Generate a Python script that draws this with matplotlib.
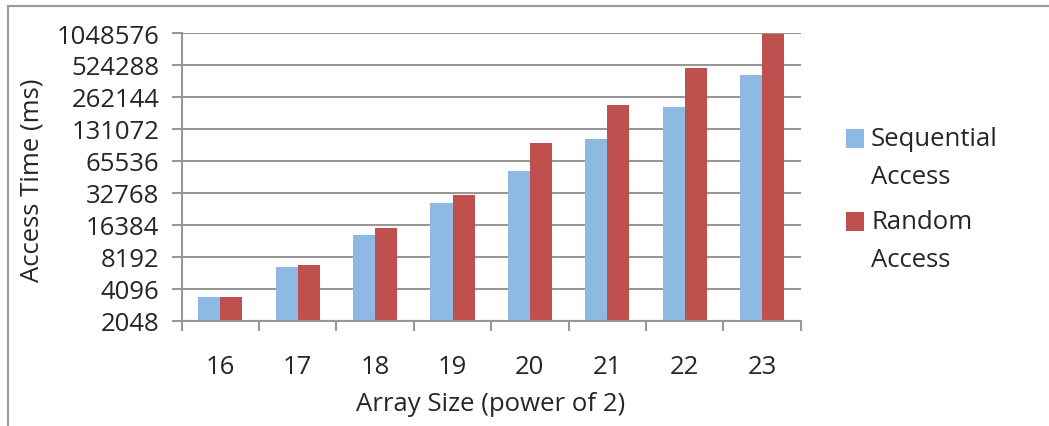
import matplotlib
matplotlib.use("Agg")
import matplotlib.pyplot as plt
from matplotlib.lines import Line2D
from matplotlib.patches import Rectangle
from matplotlib.ticker import FixedLocator, FixedFormatter, NullLocator
import numpy as np

plt.rcParams['font.family'] = ['Open Sans', 'DejaVu Sans']

categories = ["16", "17", "18", "19", "20", "21", "22", "23"]
sequential = [3400, 6600, 13100, 26400, 53100, 106000, 212000, 425000]
random_acc = [3400, 6800, 15200, 31200, 96000, 220000, 492000, 1026000]
series_labels = ["Sequential\nAccess", "Random\nAccess"]
y_ticks = [2048, 4096, 8192, 16384, 32768, 65536, 131072, 262144, 524288, 1048576]

blue = "#8DB9E2"
red = "#C0504D"
grid_c = "#979797"
text_c = "#262626"
FS = 18.5

W, H = 1049, 427
fig = plt.figure(figsize=(W / 100, H / 100), dpi=100)
ax = fig.add_axes([181.7 / W, 1 - 321.7 / H, (800.7 - 181.7) / W, (321.7 - 34) / H])

x = np.arange(len(categories))
bw = 0.285
ax.bar(x - bw / 2, sequential, bw, color=blue, zorder=3, linewidth=0)
ax.bar(x + bw / 2, random_acc, bw, color=red, zorder=3, linewidth=0)

ax.set_yscale('log', base=2)
ax.set_ylim(2048, 1048576)
ax.set_xlim(-0.5, len(categories) - 0.5)
ax.yaxis.set_major_locator(FixedLocator(y_ticks))
ax.yaxis.set_major_formatter(FixedFormatter([str(v) for v in y_ticks]))
ax.yaxis.set_minor_locator(NullLocator())

ax.set_xticks(np.arange(len(categories) + 1) - 0.5)
ax.set_xticklabels([])
ax.set_xticks(x, minor=True)
ax.set_xticklabels(categories, minor=True)

ax.grid(axis='y', color=grid_c, linewidth=1.5, zorder=0)
ax.set_axisbelow(True)
for s in ['top', 'right']:
    ax.spines[s].set_visible(False)
for s in ['left', 'bottom']:
    ax.spines[s].set_color(grid_c)
    ax.spines[s].set_linewidth(1.5)
    ax.spines[s].set_zorder(4)

ax.tick_params(axis='y', which='major', direction='out', length=7, width=1.5,
               color=grid_c, labelsize=FS, labelcolor=text_c, pad=9)
ax.tick_params(axis='x', which='major', direction='out', length=7, width=1.5,
               color=grid_c)
ax.tick_params(axis='x', which='minor', length=0, labelsize=FS,
               labelcolor=text_c, pad=24)

ax.set_ylabel("Access Time (ms)", fontsize=FS, color=text_c)
ax.set_xlabel("Array Size (power of 2)", fontsize=FS, color=text_c)
ax.yaxis.set_label_coords(32 / W, 1 - 180 / H, transform=fig.transFigure)
ax.yaxis.label.set_va('center')
ax.xaxis.set_label_coords(491 / W, 1 - 405 / H, transform=fig.transFigure)
ax.xaxis.label.set_va('center')

# legend (manual, markers aligned with first text line)
leg_colors = [blue, red]
leg_tops = [130, 213]
for lab, c, top in zip(series_labels, leg_colors, leg_tops):
    fig.patches.append(Rectangle((846 / W, 1 - (top + 19) / H), 18 / W, 19 / H,
                                 transform=fig.transFigure, facecolor=c,
                                 edgecolor='none'))
    fig.text(871 / W, 1 - (top - 3) / H, lab, fontsize=FS, color=text_c,
             va='top', ha='left', linespacing=1.66)

# outer chart frame (top and left edges visible)
fig.add_artist(Line2D([8 / W, 1], [1 - 7 / H, 1 - 7 / H], transform=fig.transFigure,
                      color="#9A9A9A", linewidth=1.5))
fig.add_artist(Line2D([8 / W, 8 / W], [0, 1 - 7 / H], transform=fig.transFigure,
                      color="#9A9A9A", linewidth=1.5))

fig.savefig("out.png", dpi=100)
